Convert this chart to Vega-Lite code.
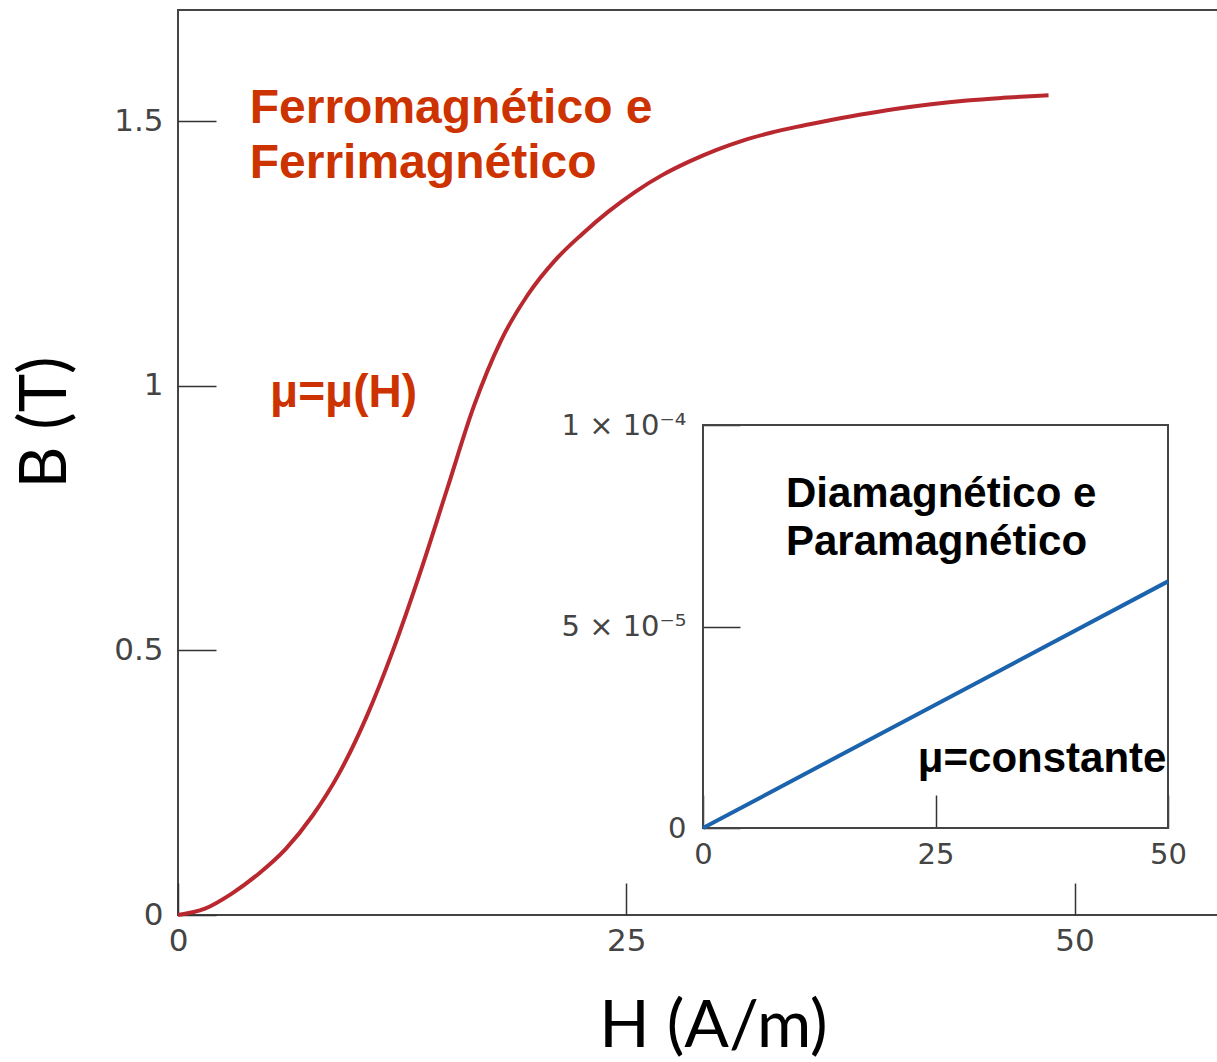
{
  "$schema": "https://vega.github.io/schema/vega-lite/v6.json",
  "width": 1040,
  "height": 905,
  "autosize": {"type": "none"},
  "padding": {"left": 178, "top": 10, "right": 0, "bottom": 147},
  "background": "white",
  "config": {
    "view": {"stroke": "#444444", "strokeWidth": 2},
    "axis": {"labelFont": "DejaVu Sans", "labelColor": "#444444", "tickColor": "#333333", "tickWidth": 1.5, "grid": false, "labelFlush": false, "labelOverlap": false, "labelBound": false}
  },
  "datasets": {
    "ferro": [
      {"H": 0, "B": 0}, {"H": 1.5, "B": 0.012}, {"H": 3, "B": 0.0405}, {"H": 4.5, "B": 0.078},
      {"H": 6, "B": 0.1245}, {"H": 7.5, "B": 0.1875}, {"H": 9, "B": 0.2685}, {"H": 10.5, "B": 0.3735},
      {"H": 12, "B": 0.501}, {"H": 13.5, "B": 0.6465}, {"H": 15, "B": 0.804}, {"H": 16.5, "B": 0.9615},
      {"H": 18, "B": 1.0845}, {"H": 19.5, "B": 1.1715}, {"H": 21, "B": 1.236}, {"H": 22.5, "B": 1.2855},
      {"H": 24, "B": 1.329}, {"H": 25.5, "B": 1.3665}, {"H": 27, "B": 1.398}, {"H": 28.5, "B": 1.4235},
      {"H": 30, "B": 1.4453}, {"H": 31.5, "B": 1.4633}, {"H": 33, "B": 1.4775}, {"H": 34.5, "B": 1.4892},
      {"H": 36, "B": 1.4994}, {"H": 38, "B": 1.512}, {"H": 40, "B": 1.523}, {"H": 42, "B": 1.532},
      {"H": 44, "B": 1.539}, {"H": 46, "B": 1.544}, {"H": 48.55, "B": 1.549}
    ],
    "dia": [{"H": 0, "B": 0}, {"H": 50, "B": 0.0000612}]
  },
  "layer": [
    {
      "layer": [
        {
          "data": {"name": "ferro"},
          "mark": {"type": "line", "color": "#b8282e", "strokeWidth": 4, "interpolate": "monotone"},
          "encoding": {
            "x": {"field": "H", "type": "quantitative", "scale": {"domain": [0, 58], "nice": false},
              "axis": {"orient": "bottom", "values": [0, 25, 50], "domain": false, "tickSize": -32, "labelFontSize": 31, "labelPadding": 43,
                "title": "H (A/m)", "titleFont": "Lato", "titleFontSize": 66, "titleFontWeight": "normal", "titleColor": "black",
                "titleX": 535, "titleY": 131, "titleAlign": "center", "titleBaseline": "alphabetic"}},
            "y": {"field": "B", "type": "quantitative", "scale": {"domain": [0, 1.71], "nice": false},
              "axis": {"orient": "left", "values": [0, 0.5, 1, 1.5], "format": "~g", "domain": false, "tickSize": -38, "labelFontSize": 31, "labelPadding": 53,
                "title": "B (T)", "titleFont": "Lato", "titleFontSize": 65, "titleFontWeight": "normal", "titleColor": "black",
                "titleAngle": 270, "titleX": -113, "titleY": 412, "titleAlign": "center", "titleBaseline": "alphabetic"}}
          }
        },
        {
          "data": {"values": [{}]},
          "mark": {"type": "text", "font": "Liberation Sans", "fontWeight": "bold", "fontSize": 48, "color": "#cc3300", "align": "left", "baseline": "alphabetic", "lineHeight": 55},
          "encoding": {
            "x": {"datum": 4.0, "type": "quantitative"},
            "y": {"datum": 1.496, "type": "quantitative"},
            "text": {"value": ["Ferromagnético e", "Ferrimagnético"]}
          }
        },
        {
          "data": {"values": [{}]},
          "mark": {"type": "text", "font": "Liberation Sans", "fontWeight": "bold", "fontSize": 46, "color": "#cc3300", "align": "left", "baseline": "alphabetic"},
          "encoding": {
            "x": {"datum": 5.13, "type": "quantitative"},
            "y": {"datum": 0.96, "type": "quantitative"},
            "text": {"value": "μ=μ(H)"}
          }
        }
      ]
    },
    {
      "layer": [
        {
          "data": {"values": [{}]},
          "mark": {"type": "rect", "filled": false, "stroke": "#444444", "strokeWidth": 2},
          "encoding": {
            "x": {"datum": 0, "type": "quantitative", "scale": {"domain": [0, 50], "range": [525, 990], "nice": false, "zero": false},
              "axis": {"orient": "bottom", "offset": -87, "values": [0, 25, 50], "domain": false, "tickSize": -33, "labelFontSize": 29, "labelPadding": 45, "title": null}},
            "x2": {"datum": 50},
            "y": {"datum": 0, "type": "quantitative", "scale": {"domain": [0, 0.0001], "range": [818, 415], "nice": false, "zero": false},
              "axis": {"orient": "left", "offset": -525, "values": [0, 0.00005, 0.0001], "domain": false, "tickSize": -37, "labelFontSize": 29, "labelPadding": 54, "title": null,
                "labelExpr": "datum.value > 0.00007 ? '1 × 10⁻⁴' : (datum.value > 0 ? '5 × 10⁻⁵' : '0')"}},
            "y2": {"datum": 0.0001}
          }
        },
        {
          "data": {"name": "dia"},
          "mark": {"type": "line", "color": "#1c63ad", "strokeWidth": 4},
          "encoding": {
            "x": {"field": "H", "type": "quantitative"},
            "y": {"field": "B", "type": "quantitative"}
          }
        },
        {
          "data": {"values": [{}]},
          "mark": {"type": "text", "font": "Liberation Sans", "fontWeight": "bold", "fontSize": 42, "color": "black", "align": "left", "baseline": "alphabetic", "lineHeight": 48},
          "encoding": {
            "x": {"datum": 8.92, "type": "quantitative"},
            "y": {"datum": 0.0000796, "type": "quantitative"},
            "text": {"value": ["Diamagnético e", "Paramagnético"]}
          }
        },
        {
          "data": {"values": [{}]},
          "mark": {"type": "text", "font": "Liberation Sans", "fontWeight": "bold", "fontSize": 42, "color": "black", "align": "left", "baseline": "alphabetic"},
          "encoding": {
            "x": {"datum": 23.1, "type": "quantitative"},
            "y": {"datum": 0.0000139, "type": "quantitative"},
            "text": {"value": "μ=constante"}
          }
        }
      ]
    }
  ],
  "resolve": {"scale": {"x": "independent", "y": "independent"}, "axis": {"x": "independent", "y": "independent"}}
}
